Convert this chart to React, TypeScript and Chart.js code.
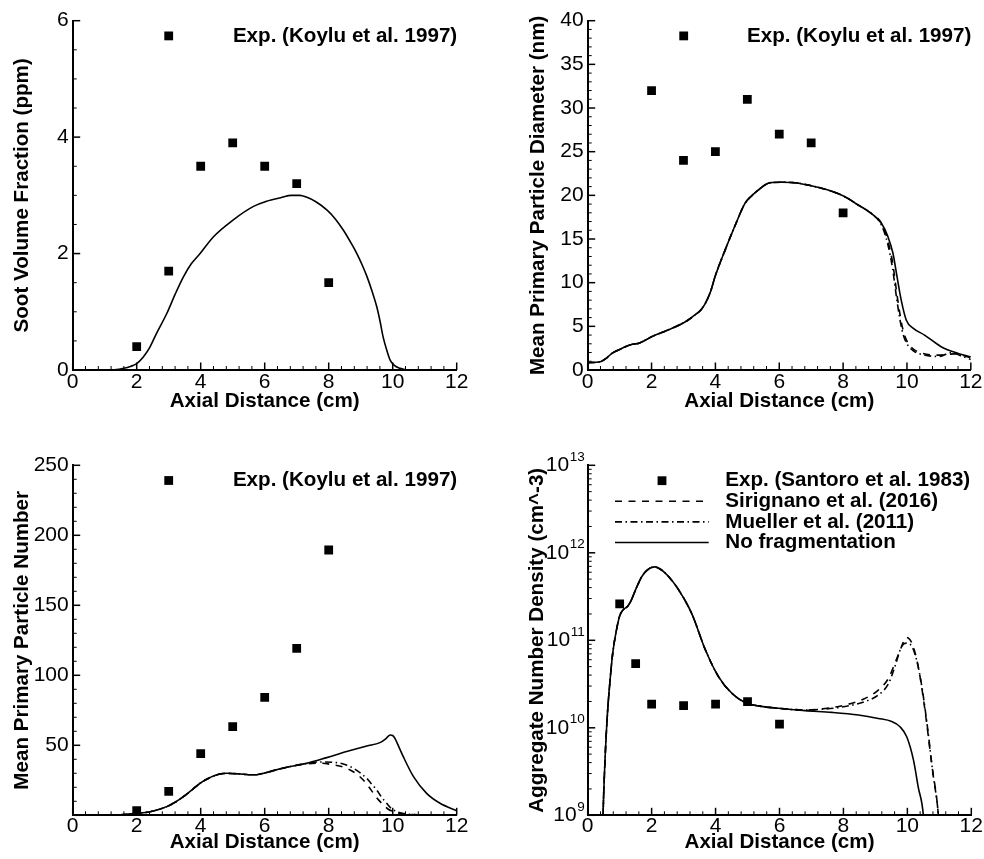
import React, { useEffect, useRef } from 'react';
import { Chart, registerables } from 'chart.js';

Chart.register(...registerables);

const FONT = '"Liberation Sans", Arial, Helvetica, sans-serif';

// ---------- tick labels ----------
const xTicks = [0, 2, 4, 6, 8, 10, 12];
const fvTicks = [0, 2, 4, 6];
const dpTicks = [0, 5, 10, 15, 20, 25, 30, 35, 40];
const npTicks = [50, 100, 150, 200, 250];
const ndTickExponents = [9, 10, 11, 12, 13];

// ---------- (a) soot volume fraction ----------
const fvExpX = [2, 3, 4, 5, 6, 7, 8];
const fvExpY = [0.4, 1.7, 3.5, 3.9, 3.5, 3.2, 1.5];
const fvSimX = [1.0, 1.3, 1.6, 1.8, 2.0, 2.2, 2.4, 2.62, 2.94, 3.2, 3.46, 3.7, 3.98, 4.4, 5.02, 5.65, 6.06, 6.5, 6.84, 7.1, 7.3, 7.6, 7.94, 8.2, 8.46, 8.7, 8.88, 9.05, 9.2, 9.35, 9.5, 9.6, 9.7, 9.82, 9.92, 10.05, 10.23, 10.44];
const fvSimY = [0, 0.005, 0.03, 0.06, 0.11, 0.22, 0.38, 0.63, 0.97, 1.3, 1.6, 1.82, 2.0, 2.29, 2.58, 2.81, 2.9, 2.96, 3.0, 3.0, 2.97, 2.89, 2.75, 2.6, 2.4, 2.18, 2.0, 1.8, 1.6, 1.36, 1.09, 0.85, 0.57, 0.33, 0.17, 0.08, 0.03, 0];

// ---------- (b) mean primary particle diameter ----------
const dpExpX = [2, 3, 4, 5, 6, 7, 8];
const dpExpY = [32, 24, 25, 31, 27, 26, 18];
const dpNoFragX = [0, 0.4, 0.6, 0.76, 1.0, 1.18, 1.4, 1.59, 1.8, 2.0, 2.53, 3.05, 3.36, 3.55, 3.68, 3.85, 3.99, 4.3, 4.6, 4.93, 5.15, 5.34, 5.71, 6.07, 6.49, 7.0, 7.53, 8.05, 8.47, 8.89, 9.2, 9.4, 9.56, 9.67, 9.82, 9.98, 10.19, 10.55, 11.07, 11.6, 12];
const dpNoFragY = [0.84, 0.95, 1.4, 1.9, 2.35, 2.67, 2.95, 3.05, 3.4, 3.8, 4.6, 5.5, 6.3, 6.9, 7.6, 9.0, 10.7, 13.7, 16.4, 19.1, 20.0, 20.6, 21.45, 21.5, 21.45, 21.1, 20.6, 19.85, 18.9, 17.9, 16.8, 15.3, 13.4, 11.1, 8.0, 5.7, 4.8, 4.0, 2.67, 1.9, 1.5];
const dpSirX = [0, 0.4, 0.6, 0.76, 1.0, 1.18, 1.4, 1.59, 1.8, 2.0, 2.53, 3.05, 3.36, 3.55, 3.68, 3.85, 3.99, 4.3, 4.6, 4.93, 5.15, 5.34, 5.71, 6.07, 6.49, 7.0, 7.53, 8.05, 8.47, 8.89, 9.2, 9.4, 9.55, 9.7, 9.85, 10.0, 10.2, 10.5, 11.0, 11.5, 12];
const dpSirY = [0.84, 0.95, 1.4, 1.9, 2.35, 2.67, 2.95, 3.05, 3.4, 3.8, 4.6, 5.5, 6.3, 6.9, 7.6, 9.0, 10.7, 13.7, 16.4, 19.1, 20.0, 20.6, 21.45, 21.5, 21.45, 21.1, 20.6, 19.85, 18.9, 17.9, 16.8, 14.8, 12.3, 8.3, 5.0, 3.3, 2.4, 1.9, 1.7, 1.85, 1.4];
const dpMuelX = [0, 0.4, 0.6, 0.76, 1.0, 1.18, 1.4, 1.59, 1.8, 2.0, 2.53, 3.05, 3.36, 3.55, 3.68, 3.85, 3.99, 4.3, 4.6, 4.93, 5.15, 5.34, 5.71, 6.07, 6.49, 7.0, 7.53, 8.05, 8.47, 8.89, 9.2, 9.4, 9.55, 9.7, 9.85, 10.0, 10.2, 10.5, 11.0, 11.4, 11.7, 12];
const dpMuelY = [0.84, 0.95, 1.4, 1.9, 2.35, 2.67, 2.95, 3.05, 3.4, 3.8, 4.6, 5.5, 6.3, 6.9, 7.6, 9.0, 10.7, 13.7, 16.4, 19.1, 20.0, 20.6, 21.45, 21.5, 21.45, 21.1, 20.6, 19.85, 18.9, 17.9, 16.6, 14.4, 11.6, 7.6, 4.5, 3.0, 2.2, 1.75, 1.55, 2.0, 1.6, 1.2];

// ---------- (c) mean primary particle number ----------
const npExpX = [2, 3, 4, 5, 6, 7, 8];
const npExpY = [3.3, 17.1, 44, 63.3, 84.3, 119.3, 189.5];
const npNoFragX = [1.0, 1.5, 2.0, 2.42, 2.94, 3.2, 3.46, 3.72, 3.98, 4.2, 4.4, 4.6, 4.81, 5.23, 5.5, 5.75, 6.0, 6.27, 6.8, 7.31, 7.94, 8.56, 9.19, 9.6, 9.8, 9.92, 10.0, 10.07, 10.2, 10.33, 10.65, 11.06, 11.48, 12];
const npNoFragY = [0, 0.4, 1.4, 2.6, 6.2, 9.3, 13.3, 18.0, 22.9, 25.9, 28.0, 29.5, 30.0, 29.5, 29.0, 29.0, 30.2, 31.9, 34.8, 37.1, 41.2, 45.5, 49.5, 51.9, 55.0, 57.4, 57.0, 55.0, 48.5, 41.9, 27.6, 15.7, 8.6, 3.3];
const npSirX = [1.0, 1.5, 2.0, 2.42, 2.94, 3.2, 3.46, 3.72, 3.98, 4.2, 4.4, 4.6, 4.81, 5.23, 5.5, 5.75, 6.0, 6.27, 6.8, 7.31, 7.73, 8.15, 8.45, 8.67, 8.9, 9.08, 9.25, 9.4, 9.55, 9.71, 9.85, 10.02, 10.2, 10.44, 11.0, 12];
const npSirY = [0, 0.4, 1.4, 2.6, 6.2, 9.3, 13.3, 18.0, 22.9, 25.9, 28.0, 29.5, 30.0, 29.5, 29.0, 29.0, 30.2, 31.9, 34.8, 36.8, 37.2, 36.0, 34.5, 32.4, 29.0, 25.2, 20.5, 15.7, 11.2, 7.4, 4.5, 2.6, 1.5, 0.7, 0.3, 0.1];
const npMuelX = [1.0, 1.5, 2.0, 2.42, 2.94, 3.2, 3.46, 3.72, 3.98, 4.2, 4.4, 4.6, 4.81, 5.23, 5.5, 5.75, 6.0, 6.27, 6.8, 7.31, 7.73, 8.25, 8.55, 8.77, 9.0, 9.19, 9.35, 9.5, 9.65, 9.81, 9.95, 10.13, 10.3, 10.54, 11.0, 12];
const npMuelY = [0, 0.4, 1.4, 2.6, 6.2, 9.3, 13.3, 18.0, 22.9, 25.9, 28.0, 29.5, 30.0, 29.5, 29.0, 29.0, 30.2, 31.9, 34.8, 37.0, 38.1, 37.6, 36.0, 33.6, 30.0, 26.4, 22.0, 18.1, 13.0, 8.6, 5.0, 2.6, 1.4, 0.7, 0.3, 0.1];

// ---------- (d) aggregate number density ----------
const ndExpX = [1, 1.5, 2, 3, 4, 5, 6];
const ndExpY = [2.6e11, 5.4e10, 1.87e10, 1.79e10, 1.87e10, 1.99e10, 1.1e10];
const ndNoFragX = [0.45, 0.48, 0.55, 0.62, 0.7, 0.78, 0.88, 1.0, 1.12, 1.25, 1.35, 1.5, 1.7, 1.9, 2.1, 2.3, 2.5, 2.84, 3.26, 3.68, 4.09, 4.51, 4.93, 5.34, 5.97, 6.8, 7.64, 8.47, 9.09, 9.51, 9.77, 9.98, 10.19, 10.34, 10.5, 10.55];
const ndNoFragY = [3e8, 1e9, 5e9, 1.5e10, 3.5e10, 7e10, 1.2e11, 1.9e11, 2.25e11, 2.45e11, 2.8e11, 3.8e11, 5.4e11, 6.5e11, 6.9e11, 6.4e11, 5.5e11, 3.8e11, 2.0e11, 7.8e10, 3.85e10, 2.48e10, 1.94e10, 1.78e10, 1.67e10, 1.57e10, 1.5e10, 1.4e10, 1.28e10, 1.18e10, 1.03e10, 7.9e9, 4.3e9, 2.1e9, 1e9, 5e8];
const ndSirX = [0.45, 0.48, 0.55, 0.62, 0.7, 0.78, 0.88, 1.0, 1.12, 1.25, 1.35, 1.5, 1.7, 1.9, 2.1, 2.3, 2.5, 2.84, 3.26, 3.68, 4.09, 4.51, 4.93, 5.34, 5.97, 6.8, 7.43, 8.05, 8.68, 9.09, 9.41, 9.61, 9.82, 9.96, 10.14, 10.34, 10.55, 10.76, 10.97, 11.02];
const ndSirY = [3e8, 1e9, 5e9, 1.5e10, 3.5e10, 7e10, 1.2e11, 1.9e11, 2.25e11, 2.45e11, 2.8e11, 3.8e11, 5.4e11, 6.5e11, 6.9e11, 6.4e11, 5.5e11, 3.8e11, 2.0e11, 7.8e10, 3.85e10, 2.48e10, 1.94e10, 1.78e10, 1.67e10, 1.6e10, 1.66e10, 1.82e10, 2.17e10, 2.7e10, 3.68e10, 5.46e10, 8.5e10, 1.08e11, 9.3e10, 5e10, 1.6e10, 3.9e9, 1e9, 5e8];
const ndMuelX = [0.45, 0.48, 0.55, 0.62, 0.7, 0.78, 0.88, 1.0, 1.12, 1.25, 1.35, 1.5, 1.7, 1.9, 2.1, 2.3, 2.5, 2.84, 3.26, 3.68, 4.09, 4.51, 4.93, 5.34, 5.97, 6.8, 7.43, 8.05, 8.68, 9.09, 9.41, 9.61, 9.82, 10.0, 10.19, 10.4, 10.6, 10.8, 10.97, 11.02];
const ndMuelY = [3e8, 1e9, 5e9, 1.5e10, 3.5e10, 7e10, 1.2e11, 1.9e11, 2.25e11, 2.45e11, 2.8e11, 3.8e11, 5.4e11, 6.5e11, 6.9e11, 6.4e11, 5.5e11, 3.8e11, 2.0e11, 7.8e10, 3.85e10, 2.48e10, 1.94e10, 1.78e10, 1.67e10, 1.6e10, 1.64e10, 1.75e10, 2.0e10, 2.37e10, 3.2e10, 5.0e10, 8.5e10, 9.3e10, 7.8e10, 3.85e10, 1.23e10, 3.0e9, 1e9, 5e8];

const KOYLU = 'Exp. (Koylu et al. 1997)';
const SANTORO = 'Exp. (Santoro et al. 1983)';
const SIRIGNANO = 'Sirignano et al. (2016)';
const MUELLER = 'Mueller et al. (2011)';
const NOFRAG = 'No fragmentation';

const DASH = [7, 6.5];
const DASHDOT = [7, 3.5, 1.5, 3.5];

const pts = (xs: number[], ys: number[]) => xs.map((x, i) => ({ x, y: ys[i] }));

const expDs = (label: string, xs: number[], ys: number[]) => ({
  label,
  data: pts(xs, ys),
  showLine: false,
  pointStyle: 'rect',
  pointRadius: 6.2,
  pointHoverRadius: 6.2,
  pointBackgroundColor: '#000',
  pointBorderWidth: 0,
  borderColor: '#000',
  backgroundColor: '#000',
});

const lineDs = (label: string, xs: number[], ys: number[], dash: number[]) => ({
  label,
  data: pts(xs, ys),
  borderColor: '#000',
  backgroundColor: '#000',
  borderWidth: 1.6,
  borderDash: dash,
  pointRadius: 0,
  pointHoverRadius: 0,
  cubicInterpolationMode: 'monotone',
  fill: false,
});

const TICK_SIZE = 21;

const decorPlugin = {
  id: 'decor',
  afterDraw(chart: any, _args: any, opts: any) {
    const { ctx, chartArea } = chart;
    const { left, right, top, bottom } = chartArea;
    const xs = chart.scales.x;
    const ys = chart.scales.y;
    ctx.save();
    ctx.strokeStyle = '#000';
    ctx.fillStyle = '#000';
    // x ticks (inward)
    const nx = Math.round((xs.max - xs.min) / opts.xMinor);
    for (let i = 0; i <= nx; i++) {
      const v = xs.min + i * opts.xMinor;
      const r = v / opts.xMajor;
      const major = Math.abs(r - Math.round(r)) < 1e-6;
      const px = xs.getPixelForValue(v);
      ctx.lineWidth = major ? 1.5 : 1;
      ctx.beginPath();
      ctx.moveTo(px, bottom);
      ctx.lineTo(px, bottom - (major ? 7.5 : 4));
      ctx.stroke();
    }
    // y ticks (inward)
    if (opts.log) {
      for (let e = opts.logMin; e <= opts.logMax; e++) {
        for (let m = 1; m <= 9; m++) {
          if (e === opts.logMax && m > 1) break;
          const py = ys.getPixelForValue(m * Math.pow(10, e));
          const major = m === 1;
          ctx.lineWidth = major ? 1.5 : 1;
          ctx.beginPath();
          ctx.moveTo(left, py);
          ctx.lineTo(left + (major ? 7.5 : 4), py);
          ctx.stroke();
        }
      }
      // log tick labels 10^n
      ndTickExponents.forEach((e) => {
        const py = ys.getPixelForValue(Math.pow(10, e));
        const es = String(e);
        ctx.textBaseline = 'middle';
        ctx.textAlign = 'right';
        ctx.font = `13.5px ${FONT}`;
        const ew = ctx.measureText(es).width;
        const xr = left - 3;
        ctx.fillText(es, xr, py - 8.5);
        ctx.font = `${TICK_SIZE}px ${FONT}`;
        ctx.fillText('10', xr - ew - 0.5, py);
      });
    } else {
      const ny = Math.round((ys.max - ys.min) / opts.yMinor);
      for (let i = 0; i <= ny; i++) {
        const v = ys.min + i * opts.yMinor;
        const r = v / opts.yMajor;
        const major = Math.abs(r - Math.round(r)) < 1e-6;
        const py = ys.getPixelForValue(v);
        ctx.lineWidth = major ? 1.5 : 1;
        ctx.beginPath();
        ctx.moveTo(left, py);
        ctx.lineTo(left + (major ? 7.5 : 4), py);
        ctx.stroke();
      }
    }
    // legend inside plot
    const leg = opts.legend;
    if (leg) {
      ctx.font = `bold 20.6px ${FONT}`;
      ctx.textBaseline = 'middle';
      chart.data.datasets.slice(0, leg.count).forEach((ds: any, i: number) => {
        const cy = top + leg.dy + i * leg.row;
        if (ds.showLine === false) {
          const s = 8.8;
          ctx.fillRect(left + leg.markerX - s / 2, cy - s / 2, s, s);
        } else {
          ctx.save();
          ctx.lineWidth = 1.6;
          ctx.setLineDash(ds.borderDash || []);
          ctx.beginPath();
          ctx.moveTo(left + leg.lineX0, cy);
          ctx.lineTo(left + leg.lineX1, cy);
          ctx.stroke();
          ctx.restore();
        }
        if (leg.align === 'right') {
          ctx.textAlign = 'right';
          ctx.fillText(ds.label, right + leg.textX, cy);
        } else {
          ctx.textAlign = 'left';
          ctx.fillText(ds.label, left + leg.textX, cy);
        }
      });
    }
    ctx.restore();
  },
};

const tickFont = { size: TICK_SIZE, family: FONT, lineHeight: 1 };
const titleFont = { size: 20.6, family: FONT, weight: 'bold' as const, lineHeight: 1 };

type Panel = {
  key: string;
  left: number;
  top: number;
  width: number;
  height: number;
  pad: { top: number; right: number };
  yW: number;
  xH: number;
  xTickPad: number;
  xTitlePb: number;
  yTitlePt: number;
  yTitle: string;
  yType: 'linear' | 'logarithmic';
  yMin: number;
  yMax: number;
  yTicks: number[];
  yMinor?: number;
  yMajor?: number;
  datasets: any[];
  legend: any;
};

const singleLegend = { count: 1, dy: 15.2, row: 0, markerX: 96, textX: 0.5, align: 'right' };
const listLegend = { count: 4, dy: 15.4, row: 20.6, markerX: 74.3, lineX0: 27.3, lineX1: 121, textX: 137.6, align: 'left' };

const PANELS: Panel[] = [
  {
    key: 'fv', left: 0, top: 0, width: 492, height: 420,
    pad: { top: 20.7, right: 35.3 }, yW: 72.7, xH: 50, xTickPad: 1.5, xTitlePb: 8.7, yTitlePt: 12.2,
    yTitle: 'Soot Volume Fraction (ppm)', yType: 'linear', yMin: 0, yMax: 6, yTicks: fvTicks, yMinor: 0.5, yMajor: 2,
    datasets: [expDs(KOYLU, fvExpX, fvExpY), lineDs(NOFRAG, fvSimX, fvSimY, [])],
    legend: singleLegend,
  },
  {
    key: 'dp', left: 492, top: 0, width: 492, height: 420,
    pad: { top: 20.7, right: 12.7 }, yW: 95.7, xH: 50, xTickPad: 1.5, xTitlePb: 8.7, yTitlePt: 36.4,
    yTitle: 'Mean Primary Particle Diameter (nm)', yType: 'linear', yMin: 0, yMax: 40, yTicks: dpTicks, yMinor: 1, yMajor: 5,
    datasets: [
      expDs(KOYLU, dpExpX, dpExpY),
      lineDs(SIRIGNANO, dpSirX, dpSirY, DASH),
      lineDs(MUELLER, dpMuelX, dpMuelY, DASHDOT),
      lineDs(NOFRAG, dpNoFragX, dpNoFragY, []),
    ],
    legend: singleLegend,
  },
  {
    key: 'np', left: 0, top: 430, width: 492, height: 429,
    pad: { top: 35.3, right: 35.3 }, yW: 72.7, xH: 43.7, xTickPad: 0.8, xTitlePb: 6.7, yTitlePt: 12.2,
    yTitle: 'Mean Primary Particle Number', yType: 'linear', yMin: 0, yMax: 250, yTicks: npTicks, yMinor: 10, yMajor: 50,
    datasets: [
      expDs(KOYLU, npExpX, npExpY),
      lineDs(SIRIGNANO, npSirX, npSirY, DASH),
      lineDs(MUELLER, npMuelX, npMuelY, DASHDOT),
      lineDs(NOFRAG, npNoFragX, npNoFragY, []),
    ],
    legend: singleLegend,
  },
  {
    key: 'nd', left: 492, top: 430, width: 492, height: 429,
    pad: { top: 35.3, right: 12.7 }, yW: 95.7, xH: 43.7, xTickPad: 0.8, xTitlePb: 6.7, yTitlePt: 35.5,
    yTitle: 'Aggregate Number Density (cm^-3)', yType: 'logarithmic', yMin: 1e9, yMax: 1e13,
    yTicks: ndTickExponents.map((e) => Math.pow(10, e)),
    datasets: [
      expDs(SANTORO, ndExpX, ndExpY),
      lineDs(SIRIGNANO, ndSirX, ndSirY, DASH),
      lineDs(MUELLER, ndMuelX, ndMuelY, DASHDOT),
      lineDs(NOFRAG, ndNoFragX, ndNoFragY, []),
    ],
    legend: listLegend,
  },
];

function PanelChart({ p }: { p: Panel }) {
  const ref = useRef<HTMLCanvasElement | null>(null);
  useEffect(() => {
    if (!ref.current) return;
    const isLog = p.yType === 'logarithmic';
    const chart = new Chart(ref.current, {
      type: 'line',
      data: { datasets: p.datasets },
      plugins: [decorPlugin],
      options: {
        responsive: false,
        maintainAspectRatio: false,
        animation: false,
        events: [],
        layout: { padding: { top: p.pad.top, right: p.pad.right, left: 0, bottom: 0 } },
        plugins: {
          legend: { display: false },
          tooltip: { enabled: false },
          decor: {
            xMinor: 0.4,
            xMajor: 2,
            yMinor: p.yMinor,
            yMajor: p.yMajor,
            log: isLog,
            logMin: ndTickExponents[0],
            logMax: ndTickExponents[ndTickExponents.length - 1],
            legend: p.legend,
          },
        } as any,
        scales: {
          x: {
            type: 'linear',
            min: 0,
            max: 12,
            afterBuildTicks: (s: any) => { s.ticks = xTicks.map((v) => ({ value: v })); },
            afterFit: (s: any) => { s.height = p.xH; },
            ticks: { font: tickFont, color: '#000', padding: p.xTickPad, maxRotation: 0, autoSkip: false },
            grid: { display: false, drawTicks: false },
            border: { display: true, color: '#000', width: 2 },
            title: { display: true, text: 'Axial Distance (cm)', color: '#000', font: titleFont, padding: { top: 0, bottom: p.xTitlePb } },
          },
          y: {
            type: p.yType,
            min: p.yMin,
            max: p.yMax,
            afterBuildTicks: (s: any) => { s.ticks = p.yTicks.map((v) => ({ value: v, major: true })); },
            afterFit: (s: any) => { s.width = p.yW; },
            ticks: {
              font: tickFont,
              color: '#000',
              padding: 4,
              autoSkip: false,
              callback: (v: any) => (isLog ? '' : String(v)),
            },
            grid: { display: false, drawTicks: false },
            border: { display: true, color: '#000', width: 2 },
            title: { display: true, text: p.yTitle, color: '#000', font: titleFont, padding: { top: p.yTitlePt, bottom: 0 } },
          },
        } as any,
      },
    } as any);
    return () => chart.destroy();
  }, [p]);
  return (
    <canvas
      ref={ref}
      width={p.width}
      height={p.height}
      style={{ position: 'absolute', left: p.left, top: p.top, width: p.width, height: p.height }}
    />
  );
}

export default function App() {
  return (
    <div style={{ position: 'absolute', left: 0, top: 0, width: 984, height: 859, background: '#fff', overflow: 'hidden' }}>
      {PANELS.map((p) => (
        <PanelChart key={p.key} p={p} />
      ))}
    </div>
  );
}
